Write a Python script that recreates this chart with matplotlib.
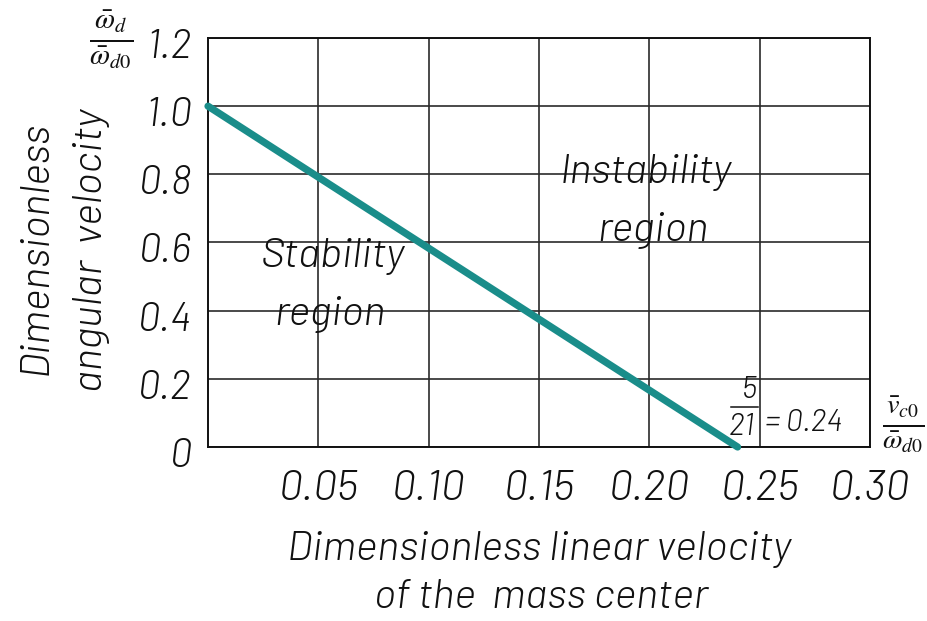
import matplotlib
matplotlib.use("Agg")
import matplotlib.pyplot as plt
from matplotlib import font_manager

# Boundary between the stability and instability regions
boundary_x = [0.0, 0.24]
boundary_y = [1.0, 0.0]

x_ticks = [0.05, 0.10, 0.15, 0.20, 0.25, 0.30]
x_tick_labels = ["0.05", "0.10", "0.15", "0.20", "0.25", "0.30"]
y_ticks = [0.0, 0.2, 0.4, 0.6, 0.8, 1.0, 1.2]
y_tick_labels = ["0", "0.2", "0.4", "0.6", "0.8", "1.0", "1.2"]

critical_num = 5
critical_den = 21
critical_value = 0.24

names = {f.name for f in font_manager.fontManager.ttflist}
family = next((n for n in ["Barlow", "Barlow Semi Condensed", "Barlow Condensed"] if n in names),
              "DejaVu Sans")
plt.rcParams["mathtext.fontset"] = "stix"

txt = dict(family=family, style="italic", weight=300, color="#111111")

W, H = 928, 621
fig = plt.figure(figsize=(W / 100, H / 100), dpi=100)
x0, x1, y0, y1 = 208, 870, 447, 38
ax = fig.add_axes([x0 / W, 1 - y0 / H, (x1 - x0) / W, (y0 - y1) / H])

ax.set_xlim(0, 0.30)
ax.set_ylim(0, 1.2)
ax.set_xticks(x_ticks)
ax.set_yticks(y_ticks)
ax.set_xticklabels([])
ax.set_yticklabels([])
ax.tick_params(length=0)
ax.grid(True, color="#2a2a2a", linewidth=1.2)
for s in ax.spines.values():
    s.set_color("#111111")
    s.set_linewidth(1.4)

ax.plot(boundary_x, boundary_y, color="#1a8d8a", linewidth=5.2,
        solid_capstyle="round", zorder=3, clip_on=False)

px = 0.30 / (x1 - x0)   # data units per pixel, x
py = 1.2 / (y0 - y1)    # data units per pixel, y

# tick labels in drafting style
for xv, lab in zip(x_ticks, x_tick_labels):
    ax.text(xv, -53 * py, lab, ha="center", va="baseline", fontsize=31, **txt)
for yv, lab in zip(y_ticks, y_tick_labels):
    ax.text(-16 * px, yv - 20 * py, lab, ha="right", va="baseline", fontsize=29, **txt)

# axis quantity fractions
fig.text(111 / W, 1 - 40 / H,
         r"$\frac{\bar{\omega}_d}{\bar{\omega}_{d0}}$", ha="center", va="center",
         fontsize=30, color="#111111")
fig.text(903 / W, 1 - 425 / H,
         r"$\frac{\bar{v}_{c0}}{\bar{\omega}_{d0}}$", ha="center", va="center",
         fontsize=29, color="#111111")

# 5/21 = 0.24 annotation
ax.text(0.2488, 0.145, str(critical_num), ha="right", va="baseline", fontsize=22, **txt)
ax.text(0.2478, 0.035, str(critical_den), ha="right", va="baseline", fontsize=22, **txt)
ax.plot([0.2372, 0.2492], [0.118, 0.118], color="#111111", linewidth=1.1, clip_on=False)
ax.text(0.2524, 0.048, f"= {critical_value:.2f}", ha="left", va="baseline", fontsize=22, **txt)

# region names
ax.text(0.0566, 0.528, "Stability", ha="center", va="baseline", fontsize=30, **txt)
ax.text(0.0553, 0.359, "region", ha="center", va="baseline", fontsize=30, **txt)
ax.text(0.1984, 0.774, "Instability", ha="center", va="baseline", fontsize=30, **txt)
ax.text(0.2016, 0.605, "region", ha="center", va="baseline", fontsize=30, **txt)

# axis titles
fig.text(539 / W, 1 - 560 / H, "Dimensionless linear velocity",
         ha="center", va="baseline", fontsize=30, **txt)
fig.text(541 / W, 1 - 608 / H, "of the  mass center",
         ha="center", va="baseline", fontsize=30, **txt)
fig.text(47 / W, 1 - 248 / H, "Dimensionless", ha="center", va="baseline",
         rotation=90, rotation_mode="anchor", fontsize=30, **txt)
fig.text(102 / W, 1 - 250 / H, "angular  velocity", ha="center", va="baseline",
         rotation=90, rotation_mode="anchor", fontsize=30, **txt)

fig.savefig("out.png", dpi=100, facecolor="white")
